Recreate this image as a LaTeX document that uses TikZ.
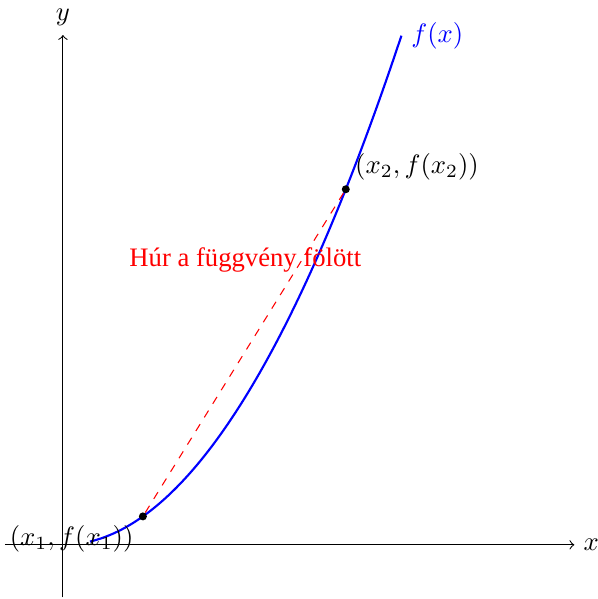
\documentclass[tikz,border=0pt]{standalone}
\usepackage[no-math]{fontspec}
\setmainfont{Liberation Serif}
\usepackage{xcolor}
\usepackage{tikz}
\usetikzlibrary{positioning}
\definecolor{HurRed}{HTML}{FF0000}
\definecolor{FvBlue}{HTML}{0000FF}
\tikzset{pont/.style={circle,fill=black,inner sep=0pt,minimum size=3pt}}

\begin{document}
\begin{tikzpicture}[x=1.05cm,y=1.05cm]
\path[use as bounding box] (-0.79,-0.68) rectangle (6.71,6.84);
% axes
\draw[->] (-0.73,0) -- (6.42,0) node[right] (xl) {$x$};
\draw[->] (0,-0.66) -- (0,6.40) node[above] (yl) {$y$};
% function
\draw[FvBlue,thick,domain=0.34:4.25,samples=80] plot (\x,{0.354*\x*\x}) node[right] (fl) {$f(x)$};
\node[pont] (p1) at (1.004,{0.354*1.004*1.004}) {};
\node[pont] (p2) at (3.551,{0.354*3.551*3.551}) {};
% chord
\draw[HurRed,dashed] (p1) -- (p2);
\node[below left] (l1) at (p1) {$(x_1,f(x_1))$};
\node[above right] (l2) at (p2) {$(x_2,f(x_2))$};
\node[HurRed] (hur) at (2.29,3.58) {Húr a függvény fölött};
\end{tikzpicture}
\end{document}
